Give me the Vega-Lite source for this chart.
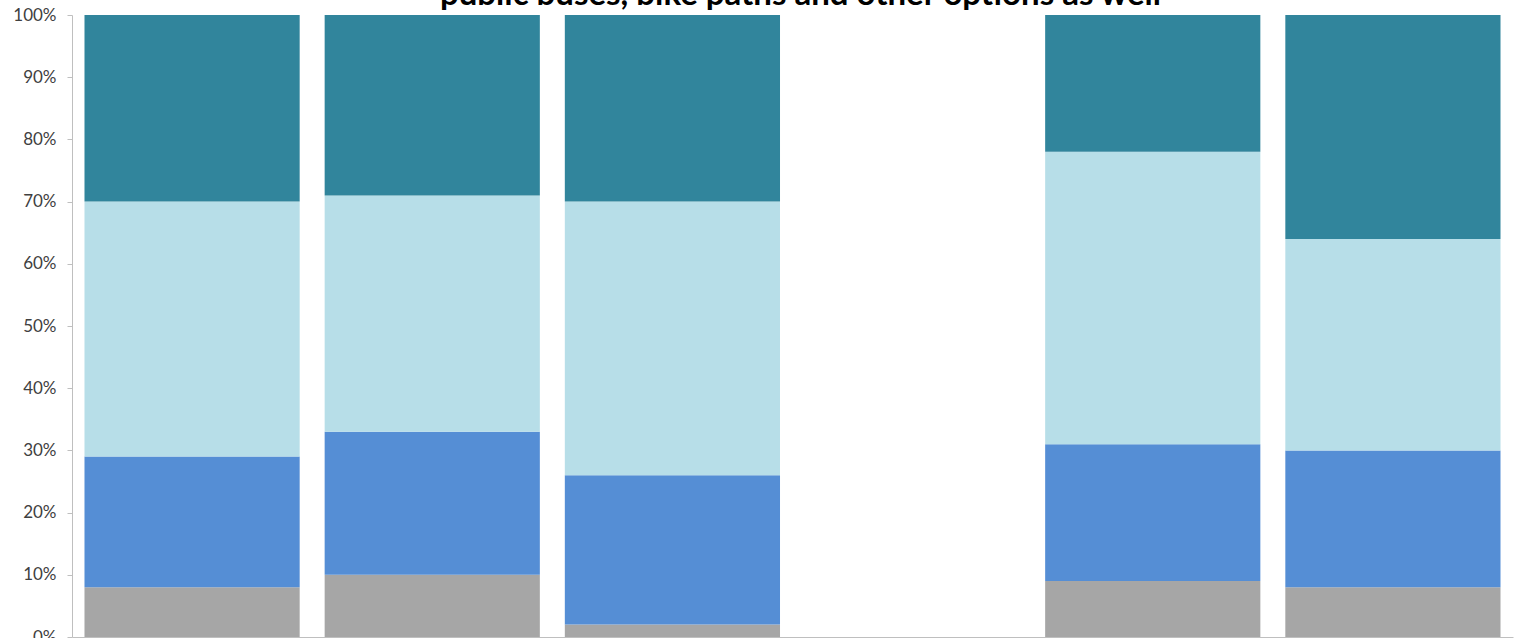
{
  "$schema": "https://vega.github.io/schema/vega-lite/v6.json",
  "width": 1441,
  "height": 622,
  "autosize": {"type": "none"},
  "padding": {"left": 72, "top": 15, "right": 7, "bottom": 1},
  "background": "white",
  "title": {
    "text": "public buses, bike paths and other options as well",
    "font": "Lato",
    "fontSize": 33,
    "fontWeight": "bold",
    "color": "#000000",
    "anchor": "middle",
    "frame": "group",
    "baseline": "alphabetic",
    "offset": 0,
    "dy": 32,
    "dx": 8
  },
  "data": {
    "values": [
      {"group": "Group 1", "segment": "S1", "k": 1, "value": 8},
      {"group": "Group 1", "segment": "S2", "k": 2, "value": 21},
      {"group": "Group 1", "segment": "S3", "k": 3, "value": 41},
      {"group": "Group 1", "segment": "S4", "k": 4, "value": 30},
      {"group": "Group 2", "segment": "S1", "k": 1, "value": 10},
      {"group": "Group 2", "segment": "S2", "k": 2, "value": 23},
      {"group": "Group 2", "segment": "S3", "k": 3, "value": 38},
      {"group": "Group 2", "segment": "S4", "k": 4, "value": 29},
      {"group": "Group 3", "segment": "S1", "k": 1, "value": 2},
      {"group": "Group 3", "segment": "S2", "k": 2, "value": 24},
      {"group": "Group 3", "segment": "S3", "k": 3, "value": 44},
      {"group": "Group 3", "segment": "S4", "k": 4, "value": 30},
      {"group": "Group 5", "segment": "S1", "k": 1, "value": 9},
      {"group": "Group 5", "segment": "S2", "k": 2, "value": 22},
      {"group": "Group 5", "segment": "S3", "k": 3, "value": 47},
      {"group": "Group 5", "segment": "S4", "k": 4, "value": 22},
      {"group": "Group 6", "segment": "S1", "k": 1, "value": 8},
      {"group": "Group 6", "segment": "S2", "k": 2, "value": 22},
      {"group": "Group 6", "segment": "S3", "k": 3, "value": 34},
      {"group": "Group 6", "segment": "S4", "k": 4, "value": 36}
    ]
  },
  "mark": {"type": "bar", "strokeWidth": 0},
  "encoding": {
    "x": {
      "field": "group",
      "type": "nominal",
      "scale": {
        "domain": ["Group 1", "Group 2", "Group 3", "Group 4", "Group 5", "Group 6"],
        "paddingInner": 0.104,
        "paddingOuter": 0.052
      },
      "axis": {
        "title": null,
        "domainColor": "#bfbfbf",
        "domainWidth": 1,
        "ticks": false,
        "labelAngle": 0,
        "labelFont": "Lato",
        "labelFontSize": 16,
        "labelColor": "#595959",
        "labelPadding": 12,
        "grid": false
      }
    },
    "y": {
      "field": "value",
      "type": "quantitative",
      "stack": "normalize",
      "scale": {"domain": [0, 1], "nice": false},
      "axis": {
        "title": null,
        "format": ".0%",
        "values": [0, 0.1, 0.2, 0.3, 0.4, 0.5, 0.6, 0.7, 0.8, 0.9, 1],
        "grid": false,
        "domainColor": "#bfbfbf",
        "domainWidth": 1,
        "tickColor": "#bfbfbf",
        "tickSize": 5,
        "labelFont": "Lato",
        "labelFontSize": 17,
        "labelColor": "#404040",
        "labelPadding": 11
      }
    },
    "color": {
      "field": "segment",
      "type": "nominal",
      "scale": {
        "domain": ["S1", "S2", "S3", "S4"],
        "range": ["#A6A6A6", "#558ED5", "#B7DEE8", "#31859C"]
      },
      "legend": null
    },
    "order": {"field": "k", "type": "quantitative"}
  },
  "config": {
    "view": {"stroke": null}
  }
}
